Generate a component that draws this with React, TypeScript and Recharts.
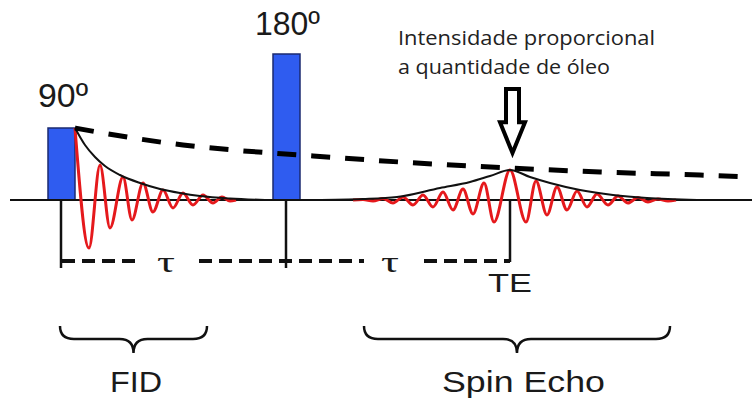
import React from 'react';
import {
  ComposedChart,
  Line,
  XAxis,
  YAxis,
  ReferenceLine,
  ReferenceArea,
  ReferenceDot,
} from 'recharts';

// time axis (t) and signal amplitude (v, baseline = 0)
const pulses = [
  { name: '90º', start: 48, end: 75, amp: 72 },
  { name: '180º', start: 273, end: 300, amp: 146 },
];

const t2Decay = [
  { t: 75, v: 72 },
  { t: 133, v: 62 },
  { t: 183, v: 55 },
  { t: 233, v: 50 },
  { t: 300, v: 45 },
  { t: 400, v: 38 },
  { t: 510, v: 32 },
  { t: 600, v: 28 },
  { t: 700, v: 25 },
  { t: 752, v: 23 },
];

const fidEnvelope = [
  { t: 75, v: 72 },
  { t: 85, v: 55 },
  { t: 95, v: 43 },
  { t: 105, v: 34 },
  { t: 120, v: 25 },
  { t: 140, v: 17 },
  { t: 160, v: 11 },
  { t: 180, v: 7 },
  { t: 200, v: 4 },
  { t: 230, v: 1.5 },
  { t: 265, v: 0 },
];

const fidSignal = [
  { t: 75, v: 72 },
  { t: 89, v: -48 },
  { t: 100, v: 35 },
  { t: 110, v: -28 },
  { t: 123, v: 23 },
  { t: 132, v: -20 },
  { t: 143, v: 17 },
  { t: 153, v: -12 },
  { t: 163, v: 10 },
  { t: 173, v: -8 },
  { t: 183, v: 7 },
  { t: 193, v: -5 },
  { t: 203, v: 5 },
  { t: 213, v: -3 },
  { t: 222, v: 3 },
  { t: 230, v: -1 },
  { t: 236, v: 0 },
];

const echoEnvelope = [
  { t: 313, v: 0 },
  { t: 363, v: 1 },
  { t: 397, v: 3 },
  { t: 440, v: 12 },
  { t: 470, v: 18 },
  { t: 490, v: 24 },
  { t: 510, v: 30 },
  { t: 530, v: 23 },
  { t: 550, v: 17 },
  { t: 580, v: 10 },
  { t: 613, v: 5 },
  { t: 647, v: 2 },
  { t: 697, v: 0 },
];

const echoSignal = [
  { t: 353, v: 0 },
  { t: 363, v: 0.5 },
  { t: 373, v: -1 },
  { t: 383, v: 1.5 },
  { t: 393, v: -3 },
  { t: 403, v: 3 },
  { t: 413, v: -5 },
  { t: 423, v: 5 },
  { t: 433, v: -7 },
  { t: 443, v: 8 },
  { t: 453, v: -10 },
  { t: 463, v: 11 },
  { t: 473, v: -14 },
  { t: 484, v: 17 },
  { t: 494, v: -22 },
  { t: 510, v: 30 },
  { t: 526, v: -22 },
  { t: 536, v: 19 },
  { t: 547, v: -15 },
  { t: 557, v: 13 },
  { t: 567, v: -10 },
  { t: 577, v: 9 },
  { t: 587, v: -7 },
  { t: 597, v: 6 },
  { t: 608, v: -5 },
  { t: 618, v: 4 },
  { t: 628, v: -3 },
  { t: 638, v: 2.5 },
  { t: 648, v: -2 },
  { t: 658, v: 1 },
  { t: 668, v: -1 },
  { t: 676, v: 0 },
];

const markers = [61, 286, 510];
const tauSegments = [
  [62, 141],
  [199, 364],
  [424, 510],
];

const SANS = '"Liberation Sans", Arial, sans-serif';
const SERIF = '"Liberation Serif", "DejaVu Serif", serif';

const textShape =
  (text: string, size: number, len: number, family = SANS, color = '#1a1a1a') =>
  (p: any) => (
    <text
      x={p.cx}
      y={p.cy}
      fontSize={size}
      fontFamily={family}
      fill={color}
      textLength={len}
      lengthAdjust='spacingAndGlyphs'
    >
      {text}
    </text>
  );

const Brace = (p: any) => {
  const { x, y, width: w, height: h } = p;
  const mid = y + h * 0.48;
  const cx = x + w / 2;
  const r = 14;
  const d = `M${x},${y} Q${x},${mid} ${x + r},${mid} L${cx - r},${mid} Q${cx},${mid} ${cx},${y + h} Q${cx},${mid} ${cx + r},${mid} L${x + w - r},${mid} Q${x + w},${mid} ${x + w},${y}`;
  return <path d={d} fill='none' stroke='#111' strokeWidth={2.5} />;
};

const Arrow = (p: any) => {
  const { x, y, width: w, height: h } = p;
  const cx = x + w / 2;
  const sw = w * 0.26;
  const sh = y + h * 0.52;
  const d = `M${cx - sw},${y} L${cx + sw},${y} L${cx + sw},${sh} L${x + w},${sh} L${cx},${y + h} L${x},${sh} L${cx - sw},${sh} Z`;
  return <path d={d} fill='#fff' stroke='#000' strokeWidth={4} strokeLinejoin='miter' />;
};

const lineProps = {
  dataKey: 'v',
  type: 'monotone' as const,
  dot: false,
  activeDot: false,
  isAnimationActive: false,
};

const App = () => {
  return (
    <div style={{ position: 'absolute', left: 0, top: 0, background: '#fff' }}>
      <ComposedChart width={752} height={399} margin={{ top: 0, right: 0, bottom: 0, left: 0 }}>
        <XAxis dataKey='t' type='number' domain={[0, 752]} hide allowDataOverflow />
        <YAxis type='number' domain={[-199, 200]} hide allowDataOverflow />

        {pulses.map((p) => (
          <ReferenceArea
            key={p.name}
            x1={p.start}
            x2={p.end}
            y1={0}
            y2={p.amp}
            fill='#2f5cf0'
            fillOpacity={1}
            stroke='#1b2a70'
            strokeWidth={1.5}
            ifOverflow='visible'
          />
        ))}

        <ReferenceLine
          segment={[{ x: 10, y: 0 }, { x: 752, y: 0 }]}
          stroke='#111'
          strokeWidth={2}
          ifOverflow='visible'
        />

        {markers.map((m) => (
          <ReferenceLine
            key={m}
            segment={[{ x: m, y: 0 }, { x: m, y: m === 510 ? -62 : -68 }]}
            stroke='#111'
            strokeWidth={2.5}
            ifOverflow='visible'
          />
        ))}
        {tauSegments.map(([a, b]) => (
          <ReferenceLine
            key={a}
            segment={[{ x: a, y: -61 }, { x: b, y: -61 }]}
            stroke='#111'
            strokeWidth={4}
            strokeDasharray='13 7'
            ifOverflow='visible'
          />
        ))}

        <Line {...lineProps} data={fidSignal} stroke='#e5191c' strokeWidth={3} />
        <Line {...lineProps} data={echoSignal} stroke='#e5191c' strokeWidth={3} />
        <Line {...lineProps} data={fidEnvelope} stroke='#111' strokeWidth={2} />
        <Line {...lineProps} data={echoEnvelope} stroke='#111' strokeWidth={2} />
        <Line {...lineProps} data={t2Decay} stroke='#000' strokeWidth={5} strokeDasharray='19 15' />

        <ReferenceArea x1={500} x2={525} y1={111} y2={47} shape={Arrow} ifOverflow='visible' />
        <ReferenceArea x1={60} x2={207} y1={-126} y2={-153} shape={Brace} ifOverflow='visible' />
        <ReferenceArea x1={364} x2={670} y1={-126} y2={-153} shape={Brace} ifOverflow='visible' />

        <ReferenceDot x={38} y={93} shape={textShape('90º', 33, 50)} ifOverflow='visible' />
        <ReferenceDot x={255} y={165} shape={textShape('180º', 34, 65)} ifOverflow='visible' />
        <ReferenceDot x={398} y={155} shape={textShape('Intensidade proporcional', 20, 257, '"Open Sans", sans-serif', '#222')} ifOverflow='visible' />
        <ReferenceDot x={398} y={126} shape={textShape('a quantidade de óleo', 20, 212, '"Open Sans", sans-serif', '#222')} ifOverflow='visible' />
        <ReferenceDot x={157} y={-72} shape={textShape('τ', 30, 18, SERIF)} ifOverflow='visible' />
        <ReferenceDot x={381} y={-72} shape={textShape('τ', 30, 18, SERIF)} ifOverflow='visible' />
        <ReferenceDot x={488} y={-92} shape={textShape('TE', 25, 44)} ifOverflow='visible' />
        <ReferenceDot x={110} y={-192} shape={textShape('FID', 30, 52)} ifOverflow='visible' />
        <ReferenceDot x={442} y={-192} shape={textShape('Spin Echo', 30, 163)} ifOverflow='visible' />
      </ComposedChart>
    </div>
  );
};

export default App;
